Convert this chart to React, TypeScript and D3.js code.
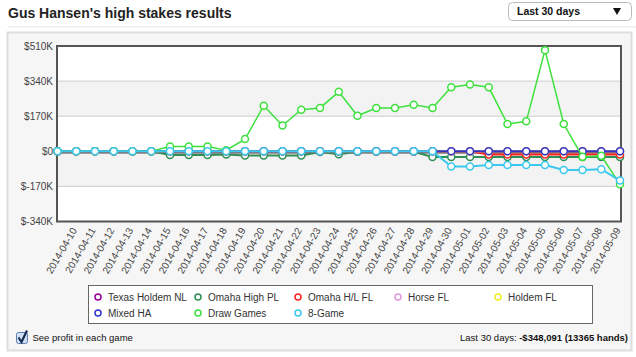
import React from "react";
import * as d3 from "d3";

const dates = [
  "2014-04-09", "2014-04-10", "2014-04-11", "2014-04-12", "2014-04-13", "2014-04-14",
  "2014-04-15", "2014-04-16", "2014-04-17", "2014-04-18", "2014-04-19", "2014-04-20",
  "2014-04-21", "2014-04-22", "2014-04-23", "2014-04-24", "2014-04-25", "2014-04-26",
  "2014-04-27", "2014-04-28", "2014-04-29", "2014-04-30", "2014-05-01", "2014-05-02",
  "2014-05-03", "2014-05-04", "2014-05-05", "2014-05-06", "2014-05-07", "2014-05-08",
  "2014-05-09",
];
const xTickLabels = dates.slice(1);

// values in $K
const texasHoldemNL = [0,0,0,0,0,0,0,0,0,0, 0,0,0,0,0,0,0,0,0,0, 0,0,0,0,0,0,0,0,0,0, 0];
const omahaHighPL = [0,0,0,0,0,0,-18,-18,-18,-16, -20,-20,-20,-20,-3,-14,-2,-2,-2,-2, -28,-28,-28,-28,-28,-28,-28,-28,-28,-28, -28];
const omahaHLFL = [0,0,0,0,0,0,0,0,0,0, 0,0,0,0,0,0,0,0,0,0, 0,0,0,-16,-16,-16,-16,-16,-16,-16, -16];
const horseFL = [0,0,0,0,0,0,0,0,0,0, 0,0,0,0,0,0,0,0,0,0, 0,0,0,0,0,0,0,0,0,0, 0];
const holdemFL = [0,0,0,0,0,0,0,0,0,0, 0,0,0,0,0,0,0,0,0,0, 0,0,0,0,0,0,0,0,0,0, 0];
const mixedHA = [0,0,0,0,0,0,0,0,0,0, 0,0,0,0,0,0,0,0,0,0, 0,0,0,0,0,0,0,0,0,0, 0];
const drawGames = [0,0,0,0,0,0,23,23,23,5, 59,221,125,201,210,288,172,210,210,226, 210,310,323,310,132,145,490,132,-27,-22, -160];
const eightGame = [0,0,0,0,0,0,0,0,0,0, 0,0,0,0,0,0,0,0,0,0, 0,-74,-74,-66,-66,-66,-66,-91,-91,-87, -142];

const seriesNames = ["Texas Holdem NL", "Omaha High PL", "Omaha H/L FL", "Horse FL", "Holdem FL", "Mixed HA", "Draw Games", "8-Game"];
const seriesValues = [texasHoldemNL, omahaHighPL, omahaHLFL, horseFL, holdemFL, mixedHA, drawGames, eightGame];
const seriesColors = ["#990099", "#2f8f55", "#ff2222", "#dd99dd", "#eeee22", "#3333cc", "#3ee03e", "#3cc8ee"];

const yTicks = [510, 340, 170, 0, -170, -340];
const yTickLabels = ["$510K", "$340K", "$170K", "$0", "$-170K", "$-340K"];

const title = "Gus Hansen's high stakes results";
const dropdownLabel = "Last 30 days";
const checkboxLabel = "See profit in each game";
const summaryPrefix = "Last 30 days: ";
const summaryValue = "-$348,091 (13365 hands)";

const W = 636, H = 357;
const plot = { left: 57, right: 621, top: 46, bottom: 221.5 };
const FONT = "'Liberation Sans', Arial, Helvetica, sans-serif";

export default function App() {
  const x = d3.scalePoint<string>().domain(dates).range([plot.left + 0.5, plot.right - 1]);
  const y = d3.scaleLinear().domain([-340, 510]).range([plot.bottom, plot.top]);
  const line = (vals: number[]) =>
    d3.line<number>().x((_, i) => x(dates[i]) as number).y((v) => y(v))(vals) as string;

  const bands = [[340, 170], [0, -170]];

  return (
    <svg width={W} height={H} style={{ position: "absolute", left: 0, top: 0, fontFamily: FONT }}>
      <rect x={0} y={0} width={W} height={H} fill="#ffffff" />
      {/* title */}
      <text x={8} y={18} fontSize={14} fontWeight="bold" fill="#222">{title}</text>
      <line x1={8} x2={W} y1={27} y2={27} stroke="#eeeeee" strokeWidth={1.5} />
      {/* dropdown */}
      <rect x={508.5} y={2.5} width={123} height={18} rx={4} fill="#fff" stroke="#bbbbbb" />
      <text x={517} y={15} fontSize={10.5} fontWeight="bold" fill="#111">{dropdownLabel}</text>
      <path d="M613,8 L621,8 L617,15 Z" fill="#111" />
      {/* panel */}
      <rect x={7.5} y={32.5} width={624} height={318} fill="#f6f6f6" stroke="#dddddd" strokeWidth={2} />
      {/* plot background */}
      <rect x={plot.left} y={plot.top} width={plot.right - plot.left} height={plot.bottom - plot.top} fill="#ffffff" />
      {bands.map(([a, b], i) => (
        <rect key={i} x={plot.left} y={y(a)} width={plot.right - plot.left} height={y(b) - y(a)} fill="#f3f3f3" />
      ))}
      {yTicks.filter((t) => t !== 0 && t !== 510 && t !== -340).map((t) => (
        <line key={t} x1={plot.left} x2={plot.right} y1={y(t)} y2={y(t)} stroke="#cccccc" strokeWidth={1} />
      ))}
      {/* baseline */}
      <line x1={plot.left} x2={plot.right} y1={y(0) + 1} y2={y(0) + 1} stroke="#444" strokeWidth={2.2} />
      {/* frame */}
      <rect x={plot.left} y={plot.top} width={plot.right - plot.left} height={plot.bottom - plot.top} fill="none" stroke="#555" strokeWidth={2} />
      {/* y labels */}
      {yTicks.map((t, i) => (
        <text key={t} x={53} y={y(t)} dy="0.35em" textAnchor="end" fontSize={10} fill="#444">{yTickLabels[i]}</text>
      ))}
      {/* x labels */}
      {xTickLabels.map((d) => {
        const px = (x(d) as number) - 2;
        const py = 228.5;
        return (
          <text key={d} x={px} y={py} dy="0.35em" textAnchor="end" fontSize={10} fill="#444"
            transform={`rotate(-60,${px},${py})`}>{d}</text>
        );
      })}
      {/* series */}
      {seriesValues.map((vals, si) => (
        <g key={si}>
          <path d={line(vals)} fill="none" stroke={seriesColors[si]} strokeWidth={si === 6 ? 1.5 : 2} />
          {vals.map((v, i) => (
            <circle key={i} cx={x(dates[i]) as number} cy={y(v)} r={3.5} fill="#fff" stroke={seriesColors[si]} strokeWidth={1.5} />
          ))}
        </g>
      ))}
      {/* legend */}
      <rect x={88.5} y={285.5} width={504} height={38} fill="#fff" stroke="#666" strokeWidth={1} />
      {seriesNames.map((n, i) => {
        const cx = 98 + (i % 5) * 100;
        const cy = 297 + Math.floor(i / 5) * 16;
        return (
          <g key={n}>
            <circle cx={cx} cy={cy} r={3} fill="#fff" stroke={seriesColors[i]} strokeWidth={1.5} />
            <text x={cx + 10} y={cy} dy="0.35em" fontSize={10} fill="#333">{n}</text>
          </g>
        );
      })}
      {/* checkbox */}
      <rect x={16.5} y={332.5} width={11} height={11} rx={2} fill="#cfe0f5" stroke="#5a7fb0" />
      <path d="M18.5,337.5 L21.5,342 L27,330.5" fill="none" stroke="#1a2e55" strokeWidth={2.2} />
      <text x={32.5} y={340.5} fontSize={9.5} fill="#111">{checkboxLabel}</text>
      <text x={628} y={340.5} fontSize={9.5} fill="#111" textAnchor="end">
        {summaryPrefix}<tspan fontWeight="bold">{summaryValue}</tspan>
      </text>
    </svg>
  );
}
